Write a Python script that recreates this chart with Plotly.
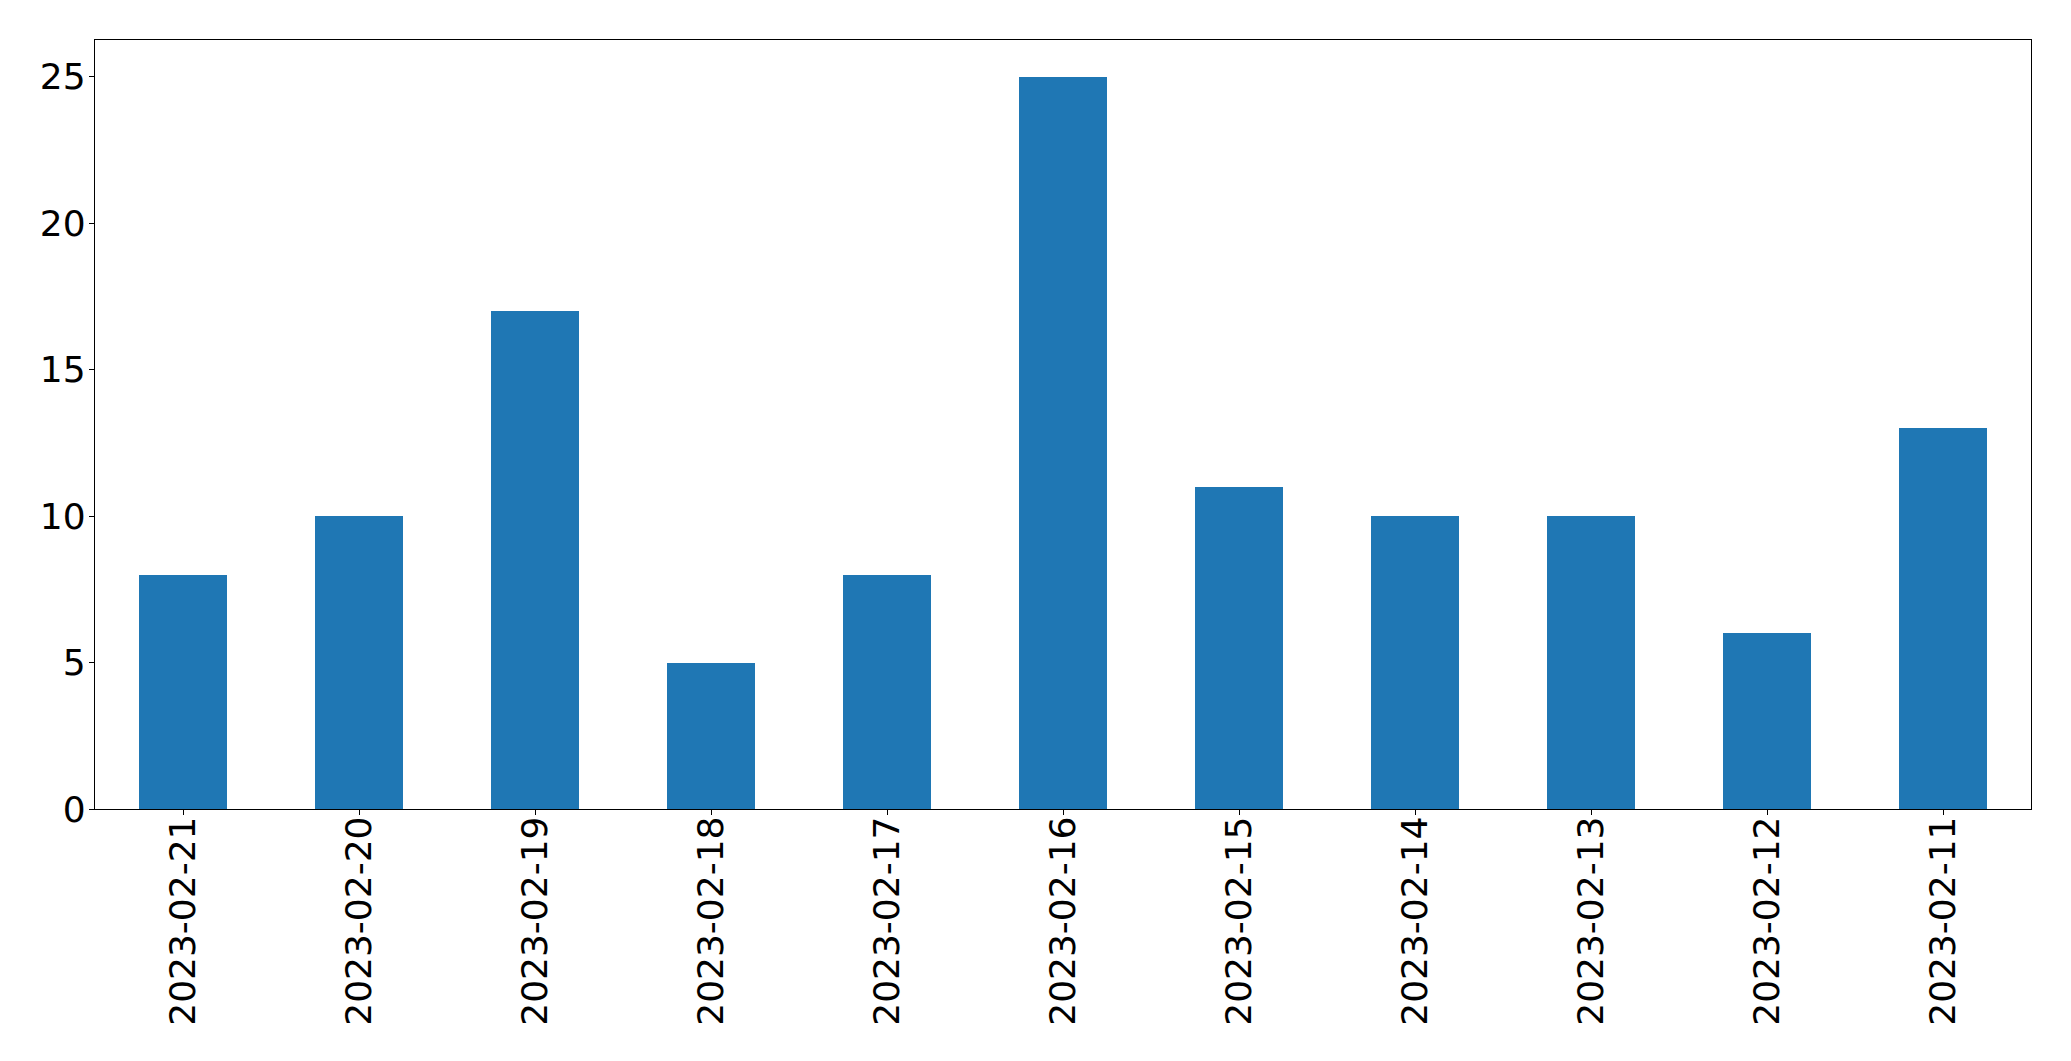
import plotly.graph_objects as go

dates = ["2023-02-21", "2023-02-20", "2023-02-19", "2023-02-18", "2023-02-17",
         "2023-02-16", "2023-02-15", "2023-02-14", "2023-02-13", "2023-02-12", "2023-02-11"]
counts = [8, 10, 17, 5, 8, 25, 11, 10, 10, 6, 13]
y_ticks = [0, 5, 10, 15, 20, 25]

fig = go.Figure(go.Bar(x=dates, y=counts, width=0.5, marker=dict(color="#1f77b4", line=dict(width=0))))

# page body has an 8px margin; compensate so the plot area lands where the reference has it
fig.update_layout(
    width=2055, height=1045,
    margin=dict(l=86.5, r=31.5, t=31.5, b=244, pad=0, autoexpand=False),
    paper_bgcolor="white", plot_bgcolor="white",
    font=dict(family="DejaVu Sans", size=36, color="black"),
    showlegend=False,
    bargap=0,
)
fig.update_xaxes(
    type="category", range=[-0.5, 10.5], tickangle=-90,
    showline=True, linecolor="black", linewidth=1.3, mirror=True,
    ticks="outside", ticklen=5, tickwidth=1.3, tickcolor="black",
    ticklabelstandoff=-13,
    showgrid=False, zeroline=False, automargin=False,
)
fig.update_yaxes(
    range=[0, 26.25], tickvals=y_ticks,
    showline=True, linecolor="black", linewidth=1.3, mirror=True,
    ticks="outside", ticklen=5, tickwidth=1.3, tickcolor="black",
    ticklabelstandoff=-4,
    showgrid=False, zeroline=False, automargin=False,
)
fig.write_html("out.html")
